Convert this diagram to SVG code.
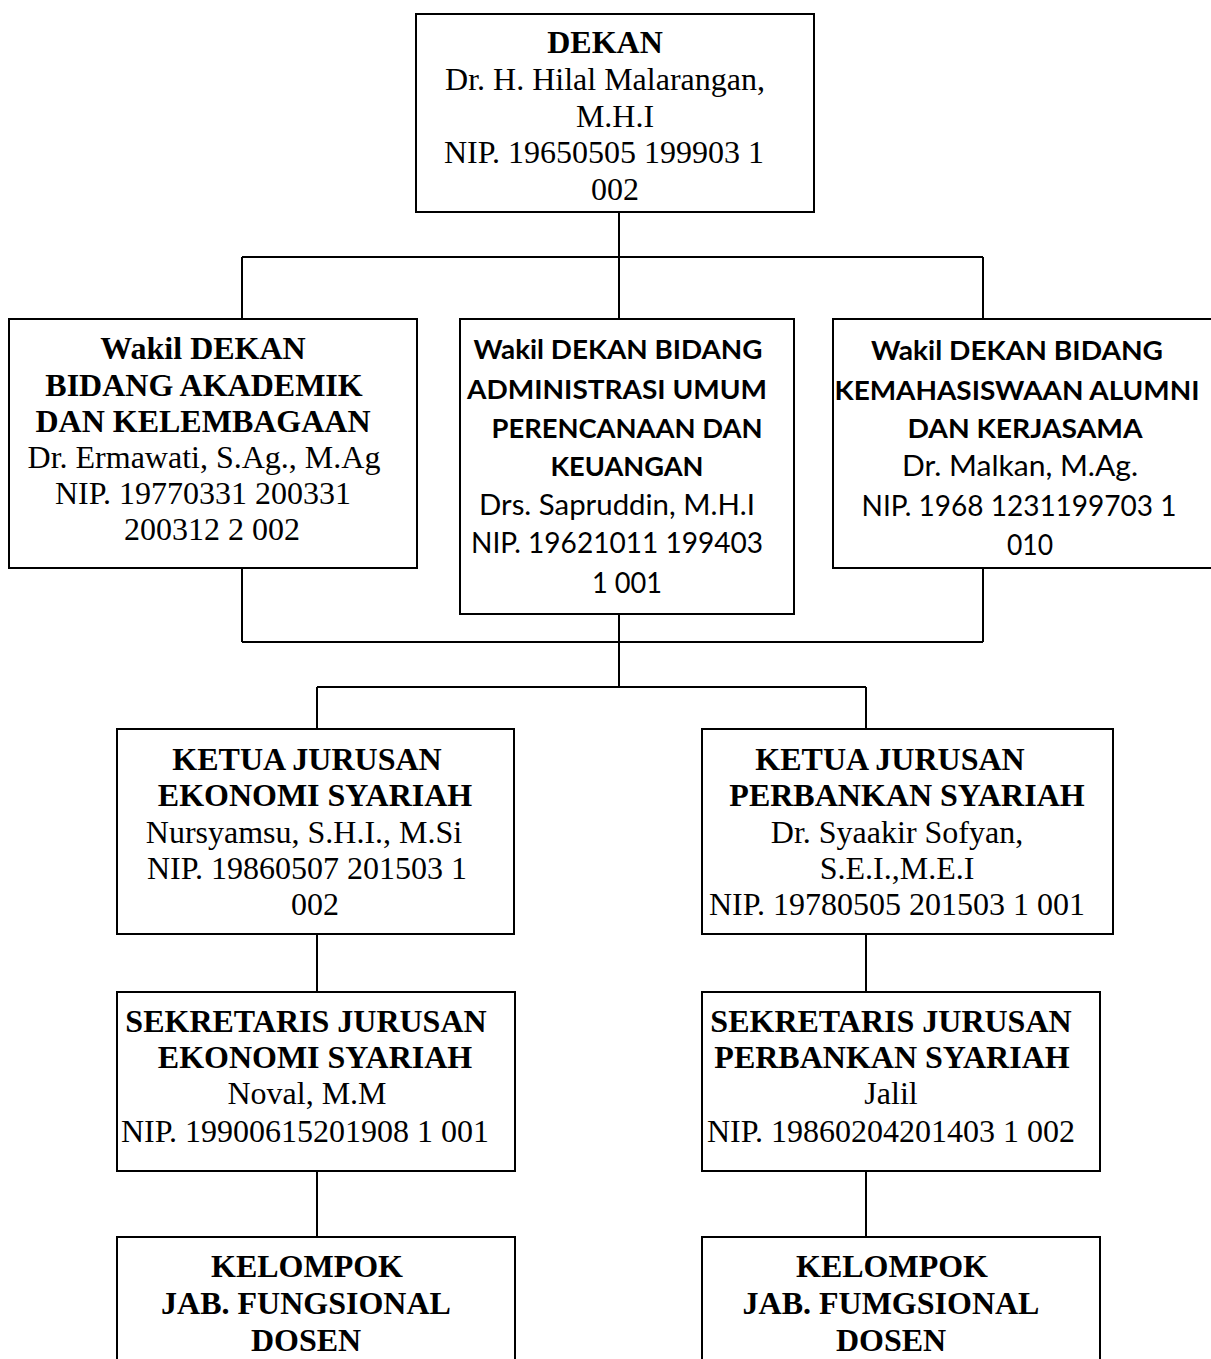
<svg xmlns="http://www.w3.org/2000/svg" width="1211" height="1359" viewBox="0 0 1211 1359">
<style>
.box{fill:#fff;stroke:#000;stroke-width:2}
.ln{fill:none;stroke:#000;stroke-width:2}
.s{font-family:"Liberation Serif","Times New Roman",serif;font-size:32px;fill:#000;text-anchor:middle}
.b{font-weight:bold}
.c{font-family:Lato,"Open Sans",sans-serif;font-size:28px;fill:#000;text-anchor:middle}
.c.b{font-size:27px}
</style>
<rect width="1211" height="1359" fill="#fff"/>
<g id="connectors">
<path class="ln" d="M619 212V319M242 257H983M242 257V319M983 257V319"/>
<path class="ln" d="M242 568V642M983 568V642M242 642H983M619 614V687M317 687H866M317 687V729M866 687V729"/>
<path class="ln" d="M317 934V992M866 934V992M317 1171V1237M866 1171V1237"/>
</g>
<g id="dekan">
<rect class="box" x="416" y="14" width="398" height="198"/>
<text class="s b" x="605" y="53">DEKAN</text>
<text class="s" x="605" y="90">Dr. H. Hilal Malarangan,</text>
<text class="s" x="615" y="127">M.H.I</text>
<text class="s" x="604" y="163">NIP. 19650505 199903 1</text>
<text class="s" x="615" y="200">002</text>
</g>
<g id="wadek1">
<rect class="box" x="9" y="319" width="408" height="249"/>
<text class="s b" x="203" y="359">Wakil DEKAN</text>
<text class="s b" x="204" y="396">BIDANG AKADEMIK</text>
<text class="s b" x="203" y="432">DAN KELEMBAGAAN</text>
<text class="s" x="204" y="468">Dr. Ermawati, S.Ag., M.Ag</text>
<text class="s" x="203" y="504">NIP. 19770331 200331</text>
<text class="s" x="212" y="540">200312 2 002</text>
</g>
<g id="wadek2">
<rect class="box" x="460" y="319" width="334" height="295"/>
<text class="c b" x="618" y="359" textLength="289" lengthAdjust="spacingAndGlyphs">Wakil DEKAN BIDANG</text>
<text class="c b" x="617" y="399" textLength="300" lengthAdjust="spacingAndGlyphs">ADMINISTRASI UMUM</text>
<text class="c b" x="627" y="438" textLength="271" lengthAdjust="spacingAndGlyphs">PERENCANAAN DAN</text>
<text class="c b" x="627" y="476" textLength="153" lengthAdjust="spacingAndGlyphs">KEUANGAN</text>
<text class="c" x="617" y="515" textLength="276" lengthAdjust="spacingAndGlyphs">Drs. Sapruddin, M.H.I</text>
<text class="c" x="617" y="553" textLength="292" lengthAdjust="spacingAndGlyphs">NIP. 19621011 199403</text>
<text class="c" x="627" y="593" textLength="70" lengthAdjust="spacingAndGlyphs">1 001</text>
</g>
<g id="wadek3">
<rect class="box" x="833" y="319" width="382" height="249"/>
<text class="c b" x="1017" y="360" textLength="292" lengthAdjust="spacingAndGlyphs">Wakil DEKAN BIDANG</text>
<text class="c b" x="1017" y="400" textLength="365" lengthAdjust="spacingAndGlyphs">KEMAHASISWAAN ALUMNI</text>
<text class="c b" x="1025" y="438" textLength="235" lengthAdjust="spacingAndGlyphs">DAN KERJASAMA</text>
<text class="c" x="1020" y="476" textLength="236" lengthAdjust="spacingAndGlyphs">Dr. Malkan, M.Ag.</text>
<text class="c" x="1019" y="516" textLength="315" lengthAdjust="spacingAndGlyphs">NIP. 1968 1231199703 1</text>
<text class="c" x="1030" y="555" textLength="46" lengthAdjust="spacingAndGlyphs">010</text>
</g>
<g id="kajur-es">
<rect class="box" x="117" y="729" width="397" height="205"/>
<text class="s b" x="307" y="770">KETUA JURUSAN</text>
<text class="s b" x="315" y="806">EKONOMI SYARIAH</text>
<text class="s" x="304" y="843">Nursyamsu, S.H.I., M.Si</text>
<text class="s" x="307" y="879">NIP. 19860507 201503 1</text>
<text class="s" x="315" y="915">002</text>
</g>
<g id="kajur-ps">
<rect class="box" x="702" y="729" width="411" height="205"/>
<text class="s b" x="890" y="770">KETUA JURUSAN</text>
<text class="s b" x="907" y="806">PERBANKAN SYARIAH</text>
<text class="s" x="897" y="843">Dr. Syaakir Sofyan,</text>
<text class="s" x="897" y="879">S.E.I.,M.E.I</text>
<text class="s" x="897" y="915">NIP. 19780505 201503 1 001</text>
</g>
<g id="sekjur-es">
<rect class="box" x="117" y="992" width="398" height="179"/>
<text class="s b" x="306" y="1032">SEKRETARIS JURUSAN</text>
<text class="s b" x="315" y="1068">EKONOMI SYARIAH</text>
<text class="s" x="307" y="1104">Noval, M.M</text>
<text class="s" x="305" y="1142">NIP. 19900615201908 1 001</text>
</g>
<g id="sekjur-ps">
<rect class="box" x="702" y="992" width="398" height="179"/>
<text class="s b" x="891" y="1032">SEKRETARIS JURUSAN</text>
<text class="s b" x="892" y="1068">PERBANKAN SYARIAH</text>
<text class="s" x="891" y="1104">Jalil</text>
<text class="s" x="891" y="1142">NIP. 19860204201403 1 002</text>
</g>
<g id="dosen-es">
<rect class="box" x="117" y="1237" width="398" height="140"/>
<text class="s b" x="307" y="1277">KELOMPOK</text>
<text class="s b" x="306" y="1314">JAB. FUNGSIONAL</text>
<text class="s b" x="306" y="1351">DOSEN</text>
</g>
<g id="dosen-ps">
<rect class="box" x="702" y="1237" width="398" height="140"/>
<text class="s b" x="892" y="1277">KELOMPOK</text>
<text class="s b" x="891" y="1314">JAB. FUMGSIONAL</text>
<text class="s b" x="891" y="1351">DOSEN</text>
</g>
</svg>
